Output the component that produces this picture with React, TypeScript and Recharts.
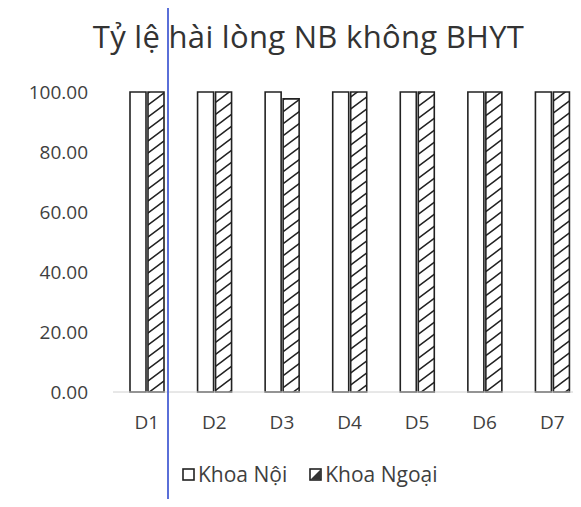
import { Bar, BarChart, XAxis, YAxis } from "recharts";

const categories = ["D1", "D2", "D3", "D4", "D5", "D6", "D7"];
const khoaNoi = [100, 100, 100, 100, 100, 100, 100];
const khoaNgoai = [100, 100, 97.7, 100, 100, 100, 100];
const yTicks = [0, 20, 40, 60, 80, 100];

const data = categories.map((name, i) => ({
  name,
  noi: khoaNoi[i],
  ngoai: khoaNgoai[i]
}));

const FONT = "'Open Sans', 'Noto Sans', sans-serif";
const TEXT = "#3f3f3f";

function LegendItem({ label, hatched }: { label: string; hatched?: boolean }) {
  return (
    <span style={{ display: "inline-flex", alignItems: "center", marginRight: hatched ? 0 : 22 }}>
      <svg width={13} height={13} style={{ marginRight: 3 }}>
        {hatched ? <path d="M1.5 11.5 L11.5 1.5 L11.5 11.5 Z" fill="#333" /> : null}
        <rect x={1} y={1} width={11} height={11} fill="none" stroke="#222" strokeWidth={1.6} />
      </svg>
      {label}
    </span>
  );
}

export default function App() {
  return (
    <div
      style={{
        position: "relative",
        width: 581,
        height: 507,
        margin: -8,
        overflow: "hidden",
        background: "#fff",
        fontFamily: FONT
      }}
    >
      <div
        style={{
          position: "absolute",
          top: 15,
          left: 0,
          width: 617,
          textAlign: "center",
          fontSize: 31,
          letterSpacing: 0.3,
          color: "#333",
          whiteSpace: "nowrap"
        }}
      >
        Tỷ lệ hài lòng NB không BHYT
      </div>
      <BarChart
        width={600}
        height={507}
        data={data}
        margin={{ top: 92, right: 14, bottom: 75, left: 0 }}
        barSize={16}
        barGap={2}
        style={{ position: "absolute", top: 0, left: 0 }}
      >
        <defs>
          <pattern id="hatch" patternUnits="userSpaceOnUse" width={16} height={12}>
            <path
              d="M0 12 L16 0 M-2 1.5 L2 -1.5 M14 13.5 L18 10.5"
              stroke="#222"
              strokeWidth={1.5}
            />
          </pattern>
        </defs>
        <XAxis
          dataKey="name"
          tickLine={false}
          axisLine={{ stroke: "#d0d0d0", strokeWidth: 1 }}
          tick={{ fill: TEXT, fontSize: 19, fontFamily: FONT }}
          tickMargin={18}
          height={40}
          interval={0}
        />
        <YAxis
          domain={[0, 100]}
          ticks={yTicks}
          tickFormatter={(v: number) => v.toFixed(2)}
          axisLine={false}
          tickLine={false}
          tick={{ fill: TEXT, fontSize: 19, fontFamily: FONT }}
          tickMargin={19}
          width={113}
        />
        <Bar
          dataKey="noi"
          name="Khoa Nội"
          fill="#fff"
          stroke="#222"
          strokeWidth={1.6}
          isAnimationActive={false}
        />
        <Bar
          dataKey="ngoai"
          name="Khoa Ngoại"
          fill="url(#hatch)"
          stroke="#222"
          strokeWidth={1.6}
          isAnimationActive={false}
        />
      </BarChart>
      <div
        style={{
          position: "absolute",
          top: 460,
          left: 182,
          fontSize: 21,
          color: TEXT,
          display: "flex",
          alignItems: "center",
          whiteSpace: "nowrap"
        }}
      >
        <LegendItem label="Khoa Nội" />
        <LegendItem label="Khoa Ngoại" hatched />
      </div>
      <div
        style={{
          position: "absolute",
          left: 167,
          top: -10,
          width: 2,
          height: 540,
          background: "#5a6fd8"
        }}
      />
    </div>
  );
}
